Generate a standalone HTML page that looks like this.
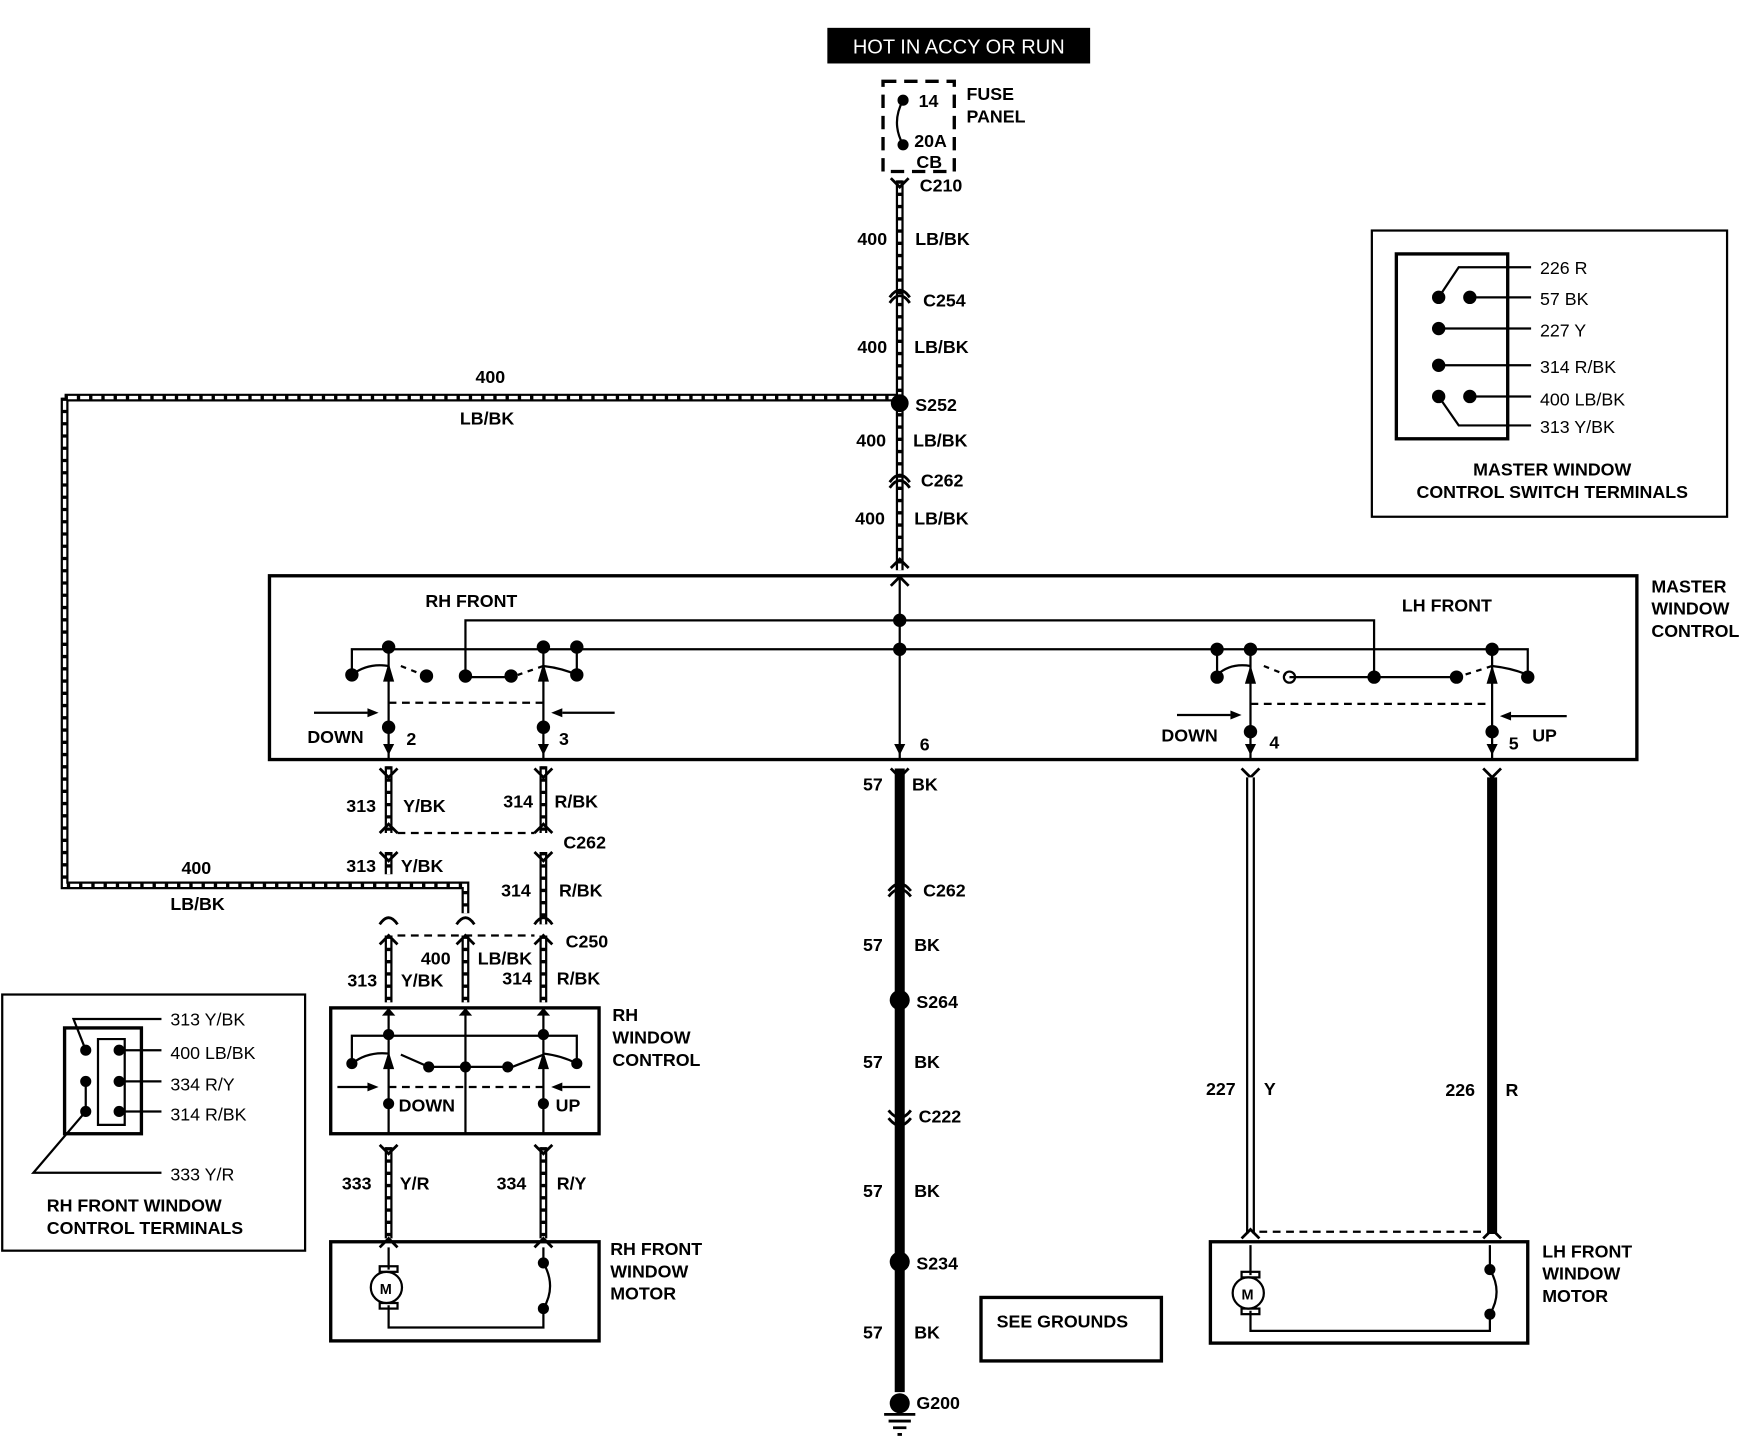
<!DOCTYPE html>
<html><head><style>
html,body{margin:0;padding:0;background:#fff;}
svg{display:block}
text{font-family:"Liberation Sans",sans-serif;font-weight:bold;font-size:16px;fill:#000}
</style></head><body>
<svg width="1746" height="1440" viewBox="0 0 1568 1293" preserveAspectRatio="none" xmlns="http://www.w3.org/2000/svg">
<defs>
<g id="h">
</g>
</defs>
<rect width="1568" height="1293" fill="#fff"/>
<!-- HOT box -->
<rect x="743" y="25" width="236" height="32" fill="#000"/>
<text x="861" y="48" text-anchor="middle" style="fill:#fff;font-size:18px;font-weight:normal">HOT IN ACCY OR RUN</text>
<!-- fuse -->
<rect x="793" y="73" width="64" height="81" fill="none" stroke="#000" stroke-width="3" stroke-dasharray="12,7"/>
<circle cx="811" cy="90" r="5"/><circle cx="811" cy="130" r="5"/>
<path d="M811 90 Q800 110 811 130" fill="none" stroke="#000" stroke-width="2"/>
<text x="825" y="96">14</text><text x="821" y="132">20A</text><text x="823" y="151">CB</text>
<text x="868" y="90">FUSE</text><text x="868" y="110">PANEL</text>

<!-- hatched wires -->
<g fill="none">
<path d="M808 162 V512 M58 357 H808 M58 357 V795 H418 V820 M349 688 V748 M488 688 V748 M349 765 V785 M488 765 V830 M349 840 V900 M418 840 V900 M488 840 V900 M349 1030 V1112 M488 1030 V1112" stroke="#000" stroke-width="7"/>
<path d="M808 162 V512 M58 357 H808 M58 357 V795 H418 V820 M349 688 V748 M488 688 V748 M349 765 V785 M488 765 V830 M349 840 V900 M418 840 V900 M488 840 V900 M349 1030 V1112 M488 1030 V1112" stroke="#fff" stroke-width="3"/>
<path d="M808 162 V512 M58 357 H808 M58 357 V795 H418 V820 M349 688 V748 M488 688 V748 M349 765 V785 M488 765 V830 M349 840 V900 M418 840 V900 M488 840 V900 M349 1030 V1112 M488 1030 V1112" stroke="#000" stroke-width="4" stroke-dasharray="3,8"/>
</g>
<!-- connectors on main -->
<g fill="none" stroke="#000" stroke-width="2.5">
<path d="M800 160 L808 168 L816 160"/>
<path d="M799 267 Q808 254 817 267 M799 272 Q808 259 817 272"/>
<path d="M799 433 Q808 420 817 433 M799 438 Q808 425 817 438"/>
<path d="M800 510 L808 502 L816 510"/>
<path d="M800 526 L808 518 L816 526"/>
</g>
<circle cx="808" cy="362" r="8"/>
<text x="826" y="172">C210</text>
<text x="770" y="220">400</text><text x="822" y="220">LB/BK</text>
<text x="829" y="275">C254</text>
<text x="770" y="317">400</text><text x="821" y="317">LB/BK</text>
<text x="822" y="369">S252</text>
<text x="769" y="401">400</text><text x="820" y="401">LB/BK</text>
<text x="827" y="437">C262</text>
<text x="768" y="471">400</text><text x="821" y="471">LB/BK</text>
<text x="427" y="344">400</text><text x="413" y="381">LB/BK</text>
<text x="163" y="785">400</text><text x="153" y="817">LB/BK</text>

<!-- master window control -->
<rect x="242" y="517" width="1228" height="165" fill="none" stroke="#000" stroke-width="3"/>
<text x="382" y="545">RH FRONT</text><text x="1259" y="549">LH FRONT</text>
<text x="1483" y="532">MASTER</text><text x="1483" y="552">WINDOW</text><text x="1483" y="572">CONTROL</text>
<g fill="none" stroke="#000" stroke-width="2">
<path d="M418 608 V557 H1234 V608 M808 517 V682 M316 606 V583 H1372 V606 M518 583 V606 M1093 583 V606"/>
<path d="M349 583 V682 M488 583 V682 M1123 583 V682 M1340 583 V682"/>
<path d="M418 608 H459 M1234 608 H1308 M1234 608 H1158"/>
<path d="M316 606 Q330 595 349 598 M488 598 Q505 600 518 606 M1093 606 Q1105 595 1123 598 M1340 598 Q1358 600 1372 606"/>
<path d="M360 598 L380 606 M488 598 L465 606 M1135 598 L1155 606 M1340 598 L1315 606" stroke-dasharray="5,5"/>
<path d="M349 631 H488 M1123 632 H1340" stroke-dasharray="7,5"/>
<path d="M282 640 H330 M552 640 H505 M1057 642 H1105 M1407 643 H1357"/>
</g>
<path d="M330 636 L340 640 L330 644Z M505 636 L495 640 L505 644Z M1105 638 L1115 642 L1105 646Z M1357 639 L1347 643 L1357 647Z"/>
<g>
<circle cx="349" cy="581" r="6"/><circle cx="488" cy="581" r="6"/><circle cx="518" cy="581" r="6"/><circle cx="316" cy="606" r="6"/><circle cx="383" cy="607" r="6"/><circle cx="418" cy="607" r="6"/><circle cx="459" cy="607" r="6"/><circle cx="518" cy="606" r="6"/>
<circle cx="808" cy="557" r="6"/><circle cx="808" cy="583" r="6"/>
<circle cx="1093" cy="583" r="6"/><circle cx="1123" cy="583" r="6"/><circle cx="1340" cy="583" r="6"/><circle cx="1093" cy="608" r="6"/><circle cx="1234" cy="608" r="6"/><circle cx="1308" cy="608" r="6"/><circle cx="1372" cy="608" r="6"/><circle cx="1158" cy="608" r="5" fill="none" stroke="#000" stroke-width="2"/>
<circle cx="349" cy="653" r="6"/><circle cx="488" cy="653" r="6"/><circle cx="1123" cy="657" r="6"/><circle cx="1340" cy="657" r="6"/>
<path d="M344 612 L349 595 L354 612Z M483 612 L488 595 L493 612Z M1118 614 L1123 597 L1128 614Z M1335 614 L1340 597 L1345 614Z"/>
<path d="M344 668 L349 678 L354 668Z M483 668 L488 678 L493 668Z M803 668 L808 678 L813 668Z M1118 668 L1123 678 L1128 668Z M1335 668 L1340 678 L1345 668Z"/>
</g>
<text x="276" y="667">DOWN</text><text x="365" y="669">2</text><text x="502" y="669">3</text><text x="826" y="674">6</text>
<text x="1043" y="666">DOWN</text><text x="1140" y="672">4</text><text x="1355" y="673">5</text><text x="1376" y="666">UP</text>

<!-- RH connectors below master -->
<g fill="none" stroke="#000" stroke-width="2.5">
<path d="M341 690 L349 698 L357 690 M480 690 L488 698 L496 690 M341 748 L349 740 L357 748 M480 748 L488 740 L496 748"/>
<path d="M341 765 L349 773 L357 765 M480 765 L488 773 L496 765"/>
<path d="M341 830 Q349 818 357 830 M410 830 Q418 818 426 830 M480 830 Q488 818 496 830"/>
<path d="M341 848 L349 840 L357 848 M410 848 L418 840 L426 848 M480 848 L488 840 L496 848"/>
<path d="M357 748 H480 M357 840 H480" stroke-dasharray="7,5" stroke-width="2"/>
<path d="M1115 690 L1123 698 L1131 690 M1332 690 L1340 698 L1348 690"/>
</g>
<text x="311" y="729">313</text><text x="362" y="729">Y/BK</text>
<text x="452" y="725">314</text><text x="498" y="725">R/BK</text>
<text x="506" y="762">C262</text>
<text x="311" y="783">313</text><text x="360" y="783">Y/BK</text>
<text x="450" y="805">314</text><text x="502" y="805">R/BK</text>
<text x="508" y="851">C250</text>
<text x="378" y="866">400</text><text x="429" y="866">LB/BK</text>
<text x="312" y="886">313</text><text x="360" y="886">Y/BK</text>
<text x="451" y="884">314</text><text x="500" y="884">R/BK</text>

<!-- RH window control -->
<rect x="297" y="905" width="241" height="113" fill="none" stroke="#000" stroke-width="3"/>
<g fill="none" stroke="#000" stroke-width="2">
<path d="M349 905 V1018 M418 905 V1018 M488 905 V1018 M316 955 V930 H518 V955"/>
<path d="M316 955 Q330 944 349 946 M488 946 Q505 948 518 955 M360 947 L385 958 M488 947 L460 958" />
<path d="M385 958 H460"/>
<path d="M349 976 H488" stroke-dasharray="7,5"/>
<path d="M303 976 H330 M530 976 H505"/>
</g>
<path d="M330 972 L340 976 L330 980Z M505 972 L495 976 L505 980Z M344 960 L349 944 L354 960Z M483 960 L488 944 L493 960Z M343 912 L349 905 L355 912Z M412 912 L418 905 L424 912Z M482 912 L488 905 L494 912Z"/>
<circle cx="349" cy="929" r="5"/><circle cx="488" cy="929" r="5"/><circle cx="316" cy="955" r="5"/><circle cx="385" cy="958" r="5"/><circle cx="418" cy="958" r="5"/><circle cx="456" cy="958" r="5"/><circle cx="518" cy="955" r="5"/><circle cx="349" cy="991" r="5"/><circle cx="488" cy="991" r="5"/>
<text x="358" y="998">DOWN</text><text x="499" y="998">UP</text>
<text x="550" y="917">RH</text><text x="550" y="937">WINDOW</text><text x="550" y="957">CONTROL</text>
<g fill="none" stroke="#000" stroke-width="2.5"><path d="M341 1028 L349 1036 L357 1028 M480 1028 L488 1036 L496 1028 M341 1120 L349 1112 L357 1120 M480 1120 L488 1112 L496 1120"/></g>
<text x="307" y="1068">333</text><text x="359" y="1068">Y/R</text><text x="446" y="1068">334</text><text x="500" y="1068">R/Y</text>

<!-- RH motor -->
<rect x="297" y="1115" width="241" height="89" fill="none" stroke="#000" stroke-width="3"/>
<g fill="none" stroke="#000" stroke-width="2">
<path d="M349 1120 V1140 M349 1172 V1192 H488 V1175 Q500 1155 488 1134 V1120"/>
<rect x="341" y="1137" width="16" height="5"/><rect x="341" y="1170" width="16" height="5"/>
<circle cx="347" cy="1156" r="14" fill="#fff"/>
</g>
<circle cx="488" cy="1134" r="5"/><circle cx="488" cy="1175" r="5"/>
<text x="341" y="1162" style="font-size:13px">M</text>
<text x="548" y="1127">RH FRONT</text><text x="548" y="1147">WINDOW</text><text x="548" y="1167">MOTOR</text>

<!-- 57 BK ground wire -->
<path d="M808 690 V1250" stroke="#000" stroke-width="9"/>
<g fill="none" stroke="#000" stroke-width="2.5">
<path d="M800 690 L808 698 L816 690"/>
<path d="M798 800 Q808 787 818 800 M798 805 Q808 792 818 805"/>
<path d="M798 997 Q808 1010 818 997 M798 1004 Q808 1017 818 1004"/>
<path d="M808 1258 V1270 M794 1270 H822 M798 1276 H818 M802 1282 H814 M806 1288 H810"/>
</g>
<circle cx="808" cy="898" r="9"/><circle cx="808" cy="1133" r="9"/><circle cx="808" cy="1260" r="9"/>
<text x="775" y="710">57</text><text x="819" y="710">BK</text>
<text x="829" y="805">C262</text>
<text x="775" y="854">57</text><text x="821" y="854">BK</text>
<text x="823" y="905">S264</text>
<text x="775" y="959">57</text><text x="821" y="959">BK</text>
<text x="825" y="1008">C222</text>
<text x="775" y="1075">57</text><text x="821" y="1075">BK</text>
<text x="823" y="1140">S234</text>
<text x="775" y="1202">57</text><text x="821" y="1202">BK</text>
<text x="823" y="1265">G200</text>

<rect x="881" y="1165" width="162" height="57" fill="none" stroke="#000" stroke-width="3"/>
<text x="895" y="1192">SEE GROUNDS</text>

<!-- LH wires -->
<path d="M1123 698 V1108" stroke="#000" stroke-width="8"/>
<path d="M1123 698 V1108" stroke="#fff" stroke-width="4"/>
<path d="M1340 698 V1108" stroke="#000" stroke-width="9"/>
<g fill="none" stroke="#000" stroke-width="2.5"><path d="M1115 1112 L1123 1104 L1131 1112 M1332 1112 L1340 1104 L1348 1112"/><path d="M1131 1106 H1332" stroke-dasharray="7,5" stroke-width="2"/></g>
<text x="1083" y="983">227</text><text x="1135" y="983">Y</text><text x="1298" y="984">226</text><text x="1352" y="984">R</text>

<!-- LH motor -->
<rect x="1087" y="1115" width="285" height="91" fill="none" stroke="#000" stroke-width="3"/>
<g fill="none" stroke="#000" stroke-width="2">
<path d="M1123 1118 V1145 M1123 1177 V1195 H1338 V1180 Q1350 1160 1338 1140 V1118"/>
<rect x="1115" y="1142" width="16" height="5"/><rect x="1115" y="1175" width="16" height="5"/>
<circle cx="1121" cy="1161" r="14" fill="#fff"/>
</g>
<circle cx="1338" cy="1140" r="5"/><circle cx="1338" cy="1180" r="5"/>
<text x="1115" y="1167" style="font-size:13px">M</text>
<text x="1385" y="1129">LH FRONT</text><text x="1385" y="1149">WINDOW</text><text x="1385" y="1169">MOTOR</text>

<!-- master terminals -->
<rect x="1232" y="207" width="319" height="257" fill="none" stroke="#000" stroke-width="2"/>
<rect x="1254" y="228" width="100" height="166" fill="none" stroke="#000" stroke-width="3"/>
<g fill="none" stroke="#000" stroke-width="2">
<path d="M1292 267 L1310 240 H1375 M1320 267 H1375 M1292 295 H1375 M1292 328 H1375 M1320 356 H1375 M1292 356 L1310 382 H1375"/>
</g>
<circle cx="1292" cy="267" r="6"/><circle cx="1320" cy="267" r="6"/><circle cx="1292" cy="295" r="6"/><circle cx="1292" cy="328" r="6"/><circle cx="1292" cy="356" r="6"/><circle cx="1320" cy="356" r="6"/>
<text x="1383" y="246" style="font-weight:normal">226 R</text><text x="1383" y="274" style="font-weight:normal">57 BK</text><text x="1383" y="302" style="font-weight:normal">227 Y</text><text x="1383" y="335" style="font-weight:normal">314 R/BK</text><text x="1383" y="364" style="font-weight:normal">400 LB/BK</text><text x="1383" y="389" style="font-weight:normal">313 Y/BK</text>
<text x="1394" y="427" text-anchor="middle">MASTER WINDOW</text><text x="1394" y="447" text-anchor="middle">CONTROL SWITCH TERMINALS</text>

<!-- RH terminals -->
<rect x="2" y="893" width="272" height="230" fill="none" stroke="#000" stroke-width="2"/>
<rect x="58" y="923" width="69" height="95" fill="none" stroke="#000" stroke-width="3"/>
<g fill="none" stroke="#000" stroke-width="2">
<path d="M77 943 L66 915 H145 M107 943 H145 M107 971 H145 M107 998 H145 M77 971 V998 M88 933 H112 V1010 H88 Z M77 998 L30 1053 H145"/>
</g>
<circle cx="77" cy="943" r="5"/><circle cx="107" cy="943" r="5"/><circle cx="77" cy="971" r="5"/><circle cx="107" cy="971" r="5"/><circle cx="77" cy="998" r="5"/><circle cx="107" cy="998" r="5"/>
<text x="153" y="921" style="font-weight:normal">313 Y/BK</text><text x="153" y="951" style="font-weight:normal">400 LB/BK</text><text x="153" y="979" style="font-weight:normal">334 R/Y</text><text x="153" y="1006" style="font-weight:normal">314 R/BK</text><text x="153" y="1060" style="font-weight:normal">333 Y/R</text>
<text x="42" y="1088">RH FRONT WINDOW</text><text x="42" y="1108">CONTROL TERMINALS</text>
</svg>
</body></html>
